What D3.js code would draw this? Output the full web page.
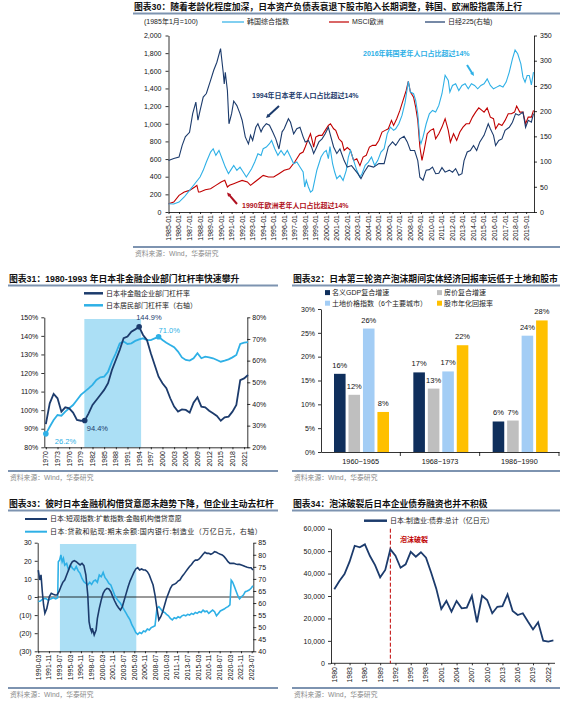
<!DOCTYPE html>
<meta charset="utf-8">
<head>
  <title>日本资产负债表衰退</title>
</head>

<style>
  body { margin: 0; background: #fff; }
  svg { font-family: "Liberation Sans", "Noto Sans CJK SC", Arial, sans-serif; }
  .ttl { font-size: 8.8px; font-weight: bold; fill: #111; }
  .src { font-size: 6.8px; fill: #8a8a8a; }
  .lg { font-size: 7px; fill: #222; }
  .axis text { font-size: 7px; fill: #111; }
  .axis path, .axis line { stroke: #000; stroke-width: 0.8; }
  .xl { font-size: 7px; fill: #111; }
</style>

<body>

  <div id="chart"></div>

  <script src="https://d3js.org/d3.v7.min.js"></script>

  <script>

  // ---------------- data ----------------

  // chart 30: [year, value], left axis (1985-01 = 100)
  var kospi30 = [[1985.0,94],[1985.5,90],[1986.0,113],[1986.5,170],[1987.0,245],[1987.5,320],[1988.0,396],[1988.3,472],[1988.6,566],[1989.0,679],[1989.25,717],[1989.5,642],[1989.8,698],[1990.1,604],[1990.4,509],[1990.7,434],[1990.9,472],[1991.2,528],[1991.5,472],[1991.8,509],[1992.1,453],[1992.4,396],[1992.6,434],[1992.9,490],[1993.2,566],[1993.5,660],[1993.8,642],[1994.0,717],[1994.3,736],[1994.6,774],[1994.8,810],[1995.1,717],[1995.4,642],[1995.7,698],[1996.0,642],[1996.3,698],[1996.6,623],[1996.9,547],[1997.2,566],[1997.5,509],[1997.8,453],[1997.95,283],[1998.1,358],[1998.3,283],[1998.5,226],[1998.7,245],[1998.9,358],[1999.1,472],[1999.3,547],[1999.5,623],[1999.8,679],[2000.0,698],[2000.2,604],[2000.35,740],[2000.6,547],[2000.8,453],[2001.0,377],[2001.3,415],[2001.6,358],[2001.9,472],[2002.1,623],[2002.3,698],[2002.6,585],[2002.9,472],[2003.2,396],[2003.4,434],[2003.7,528],[2004.0,566],[2004.3,623],[2004.6,528],[2004.9,585],[2005.2,679],[2005.5,717],[2005.8,887],[2006.1,962],[2006.4,925],[2006.6,943],[2006.9,1000],[2007.2,1094],[2007.5,1245],[2007.8,1480],[2008.0,1359],[2008.3,1340],[2008.5,1264],[2008.7,1113],[2008.9,811],[2009.0,774],[2009.2,849],[2009.5,1000],[2009.8,1113],[2010.1,1151],[2010.4,1132],[2010.7,1208],[2011.0,1340],[2011.3,1550],[2011.6,1491],[2011.75,1359],[2012.0,1434],[2012.3,1453],[2012.6,1377],[2012.9,1434],[2013.2,1453],[2013.5,1396],[2013.8,1453],[2014.1,1434],[2014.4,1396],[2014.7,1434],[2015.0,1453],[2015.3,1509],[2015.6,1434],[2015.9,1396],[2016.2,1415],[2016.5,1434],[2016.8,1415],[2017.1,1472],[2017.4,1585],[2017.7,1736],[2017.95,1835],[2018.2,1793],[2018.5,1679],[2018.7,1528],[2018.9,1472],[2019.1,1547],[2019.3,1547],[2019.5,1440],[2019.7,1585]];
  var msci30 = [[1985.0,94],[1985.5,113],[1986.0,189],[1986.5,226],[1987.0,245],[1987.5,283],[1987.7,302],[1987.85,226],[1988.0,226],[1988.5,253],[1989.0,264],[1989.5,302],[1990.0,340],[1990.35,360],[1990.6,283],[1990.8,302],[1991.2,321],[1991.6,340],[1992.0,358],[1992.5,340],[1992.8,302],[1993.2,340],[1993.6,377],[1994.0,415],[1994.5,396],[1995.0,396],[1995.5,434],[1996.0,472],[1996.5,490],[1997.0,566],[1997.5,660],[1997.8,679],[1998.0,736],[1998.3,830],[1998.5,887],[1998.7,792],[1998.8,736],[1999.0,849],[1999.3,868],[1999.6,868],[1999.9,925],[2000.2,981],[2000.4,1000],[2000.7,943],[2000.9,925],[2001.2,830],[2001.5,792],[2001.7,698],[2002.0,730],[2002.3,698],[2002.6,585],[2002.9,604],[2003.2,525],[2003.5,623],[2003.8,642],[2004.1,736],[2004.4,755],[2004.7,755],[2005.0,811],[2005.3,906],[2005.6,925],[2005.9,943],[2006.2,1038],[2006.4,981],[2006.7,1057],[2007.0,1151],[2007.3,1264],[2007.6,1377],[2007.8,1480],[2008.0,1359],[2008.3,1302],[2008.5,1189],[2008.7,1038],[2008.9,736],[2009.1,585],[2009.3,698],[2009.6,887],[2009.9,925],[2010.2,943],[2010.4,830],[2010.7,887],[2011.0,962],[2011.3,1057],[2011.6,925],[2011.8,792],[2012.1,887],[2012.4,811],[2012.7,906],[2013.0,962],[2013.3,1000],[2013.6,1000],[2013.9,1075],[2014.2,1132],[2014.5,1180],[2014.8,1151],[2015.0,1132],[2015.3,1180],[2015.6,1075],[2015.9,1057],[2016.1,943],[2016.4,1000],[2016.7,981],[2017.0,1038],[2017.3,1113],[2017.6,1113],[2017.9,1132],[2018.1,1200],[2018.4,1132],[2018.7,1132],[2018.95,1000],[2019.2,1075],[2019.5,1075],[2019.7,1151]];
  // nikkei on right axis
  var nikkei30 = [[1985.0,102],[1985.5,106],[1986.0,109],[1986.3,132],[1986.6,149],[1987.0,158],[1987.3,195],[1987.6,218],[1987.8,182],[1988.0,201],[1988.3,228],[1988.6,235],[1989.0,261],[1989.3,281],[1989.6,297],[1989.95,324],[1990.2,277],[1990.3,254],[1990.4,277],[1990.6,241],[1990.75,175],[1991.0,195],[1991.2,220],[1991.5,211],[1991.8,195],[1992.0,182],[1992.3,149],[1992.6,135],[1992.8,152],[1993.0,142],[1993.3,168],[1993.5,175],[1993.8,159],[1994.0,168],[1994.3,175],[1994.6,172],[1994.9,159],[1995.2,145],[1995.5,125],[1995.8,159],[1996.0,165],[1996.4,185],[1996.6,178],[1996.9,155],[1997.2,165],[1997.5,168],[1997.8,149],[1998.0,139],[1998.3,142],[1998.6,129],[1998.8,116],[1999.0,125],[1999.3,139],[1999.6,145],[1999.9,155],[2000.2,168],[2000.4,152],[2000.7,129],[2001.0,116],[2001.3,125],[2001.7,102],[2002.0,89],[2002.4,92],[2002.7,84],[2003.0,76],[2003.3,66],[2003.6,79],[2004.0,92],[2004.5,89],[2005.0,96],[2005.5,96],[2005.9,129],[2006.3,139],[2006.6,132],[2007.0,145],[2007.4,150],[2007.7,139],[2008.0,122],[2008.4,122],[2008.7,102],[2008.9,69],[2009.2,63],[2009.5,83],[2009.8,84],[2010.1,89],[2010.4,76],[2010.7,77],[2011.0,88],[2011.3,79],[2011.7,83],[2012.0,79],[2012.3,86],[2012.6,73],[2012.9,76],[2013.1,102],[2013.4,119],[2013.7,122],[2014.0,132],[2014.3,122],[2014.6,139],[2015.0,152],[2015.4,175],[2015.6,165],[2015.9,152],[2016.1,132],[2016.4,142],[2016.7,145],[2017.0,162],[2017.4,168],[2017.7,178],[2018.0,195],[2018.3,192],[2018.7,198],[2018.95,168],[2019.2,182],[2019.5,178],[2019.7,195]];
  var ticks30 = ["1985-01","1986-01","1987-01","1988-01","1989-01","1990-01","1991-01","1992-01","1993-01","1994-01","1995-01","1996-01","1997-01","1998-01","1999-01","2000-01","2001-01","2002-01","2003-01","2004-01","2005-01","2006-01","2007-01","2008-01","2009-01","2010-01","2011-01","2012-01","2013-01","2014-01","2015-01","2016-01","2017-01","2018-01","2019-01"];

  // chart 31: yearly leverage ratios (%)
  var years31 = [1970,1971,1972,1973,1974,1975,1976,1977,1978,1979,1980,1981,1982,1983,1984,1985,1986,1987,1988,1989,1990,1991,1992,1993,1994,1995,1996,1997,1998,1999,2000,2001,2002,2003,2004,2005,2006,2007,2008,2009,2010,2011,2012,2013,2014,2015,2016,2017,2018,2019,2020,2021,2022];
  var nfc31 = [92.5,103.7,108.7,106.4,99.2,101.5,101.0,98.7,94.7,94.3,94.4,98.3,102.8,105.5,108.2,110.9,114.5,121.6,127.0,132.4,138.7,139.6,142.3,143.5,144.9,140.5,137.8,130.6,124.3,118.0,114.5,111.8,106.4,101.9,99.2,100.4,100.1,98.7,104.0,106.9,101.9,101.5,99.7,98.3,96.9,94.3,96.1,96.5,99.2,102.8,116.2,117.1,118.9];
  var hh31 = [26.2,29.5,32.6,34.9,34.6,36.5,38.0,39.5,41.8,44.2,45.7,47.2,48.8,51.1,52.3,52.6,54.9,59.5,63.4,68.0,68.8,67.7,68.0,69.1,69.8,70.3,69.5,69.5,70.3,71.0,69.5,68.3,67.2,66.2,64.2,61.5,60.3,60.0,61.1,63.4,61.1,61.8,61.5,61.1,60.3,59.5,60.0,60.6,61.5,62.6,67.7,68.3,68.5];
  var ticks31 = [1970,1973,1976,1979,1982,1985,1988,1991,1994,1997,2000,2003,2006,2009,2012,2015,2018,2021];
  var shade31 = [1979.9, 1994.5];

  // chart 32: growth rates (%)
  var cats32 = ["1960~1965", "1968~1973", "1986~1990"];
  var series32 = ["名义GDP复合增速", "房价复合增速", "土地价格指数（6个主要城市）", "股市年化回报率"];
  var gdp32 = [16.4, 16.7, 6.4];
  var house32 = [12.0, 13.3, 6.6];
  var land32 = [25.9, 16.9, 24.4];
  var stock32 = [8.4, 22.4, 27.6];

  // chart 33: [year, value]
  var di33 = [[1990.17,14.9],[1990.4,9.4],[1990.6,12.2],[1990.8,2.9],[1991.0,-4.4],[1991.2,-9.0],[1991.5,-6.3],[1991.9,0.2],[1992.2,2.0],[1992.5,1.5],[1992.8,1.1],[1993.1,1.1],[1993.4,2.9],[1993.7,5.7],[1994.0,8.1],[1994.3,9.4],[1994.6,12.2],[1994.9,14.9],[1995.2,17.7],[1995.5,19.5],[1995.8,20.1],[1996.1,19.5],[1996.4,18.6],[1996.7,17.7],[1997.0,18.6],[1997.3,17.3],[1997.6,12.2],[1997.9,1.1],[1998.1,-13.6],[1998.3,-17.3],[1998.5,-19.2],[1998.6,-17.3],[1998.9,-21.0],[1999.2,-18.2],[1999.4,-11.8],[1999.7,-6.3],[2000.0,-1.7],[2000.3,2.0],[2000.6,3.9],[2000.9,4.8],[2001.2,4.4],[2001.5,2.9],[2001.8,0.2],[2002.1,-2.2],[2002.4,-4.4],[2002.7,-5.9],[2003.0,-7.2],[2003.3,-5.3],[2003.6,-1.7],[2003.9,2.0],[2004.2,5.7],[2004.5,8.8],[2004.8,11.2],[2005.1,13.6],[2005.4,15.5],[2005.7,16.2],[2006.0,14.9],[2006.3,15.5],[2006.6,14.9],[2006.9,14.9],[2007.2,14.0],[2007.5,12.2],[2007.8,9.4],[2008.1,6.6],[2008.4,1.1],[2008.7,-6.3],[2009.0,-12.7],[2009.3,-10.9],[2009.6,-8.1],[2009.9,-4.4],[2010.2,-0.7],[2010.5,2.0],[2010.8,4.8],[2011.1,6.6],[2011.4,7.0],[2011.7,7.6],[2012.0,8.8],[2012.3,9.4],[2012.6,11.2],[2012.9,12.5],[2013.2,14.0],[2013.5,15.5],[2013.8,16.8],[2014.1,18.0],[2014.4,19.5],[2014.7,20.4],[2015.0,20.4],[2015.3,21.0],[2015.6,22.3],[2015.9,23.6],[2016.2,24.7],[2016.5,24.1],[2016.8,24.1],[2017.1,23.6],[2017.4,24.1],[2017.7,25.0],[2018.0,24.7],[2018.3,24.1],[2018.6,23.6],[2018.9,23.2],[2019.2,22.3],[2019.5,21.0],[2019.8,19.5],[2020.1,18.6],[2020.4,18.6],[2020.7,18.6],[2021.0,18.2],[2021.3,18.0],[2021.6,18.0],[2021.9,17.7],[2022.2,17.3],[2022.5,16.8],[2022.8,16.4],[2023.1,16.2],[2023.4,16.2],[2023.7,14.9]];
  var loan33 = [[1990.17,60.6],[1990.5,60.8],[1990.9,61.7],[1991.3,61.9],[1991.7,61.2],[1992.1,61.7],[1992.5,62.2],[1992.9,61.7],[1993.2,62.2],[1993.3,77.1],[1993.5,77.8],[1993.7,79.9],[1993.9,77.1],[1994.1,78.5],[1994.3,75.7],[1994.6,76.4],[1994.9,73.7],[1995.2,75.7],[1995.5,74.4],[1995.8,73.7],[1996.1,75.1],[1996.4,73.3],[1996.7,72.3],[1997.0,70.2],[1997.3,68.8],[1997.6,68.1],[1997.9,67.5],[1998.2,68.6],[1998.5,67.7],[1998.8,69.1],[1999.1,69.5],[1999.4,68.6],[1999.7,71.6],[2000.0,70.9],[2000.3,72.7],[2000.6,70.5],[2000.9,69.5],[2001.2,68.1],[2001.5,67.5],[2001.8,65.4],[2002.1,63.3],[2002.4,61.9],[2002.7,60.8],[2003.0,59.9],[2003.3,58.5],[2003.6,57.1],[2003.9,55.7],[2004.2,54.3],[2004.5,53.0],[2004.8,50.9],[2005.1,49.5],[2005.4,47.8],[2005.7,47.0],[2006.0,47.8],[2006.3,47.4],[2006.6,48.4],[2006.9,48.1],[2007.2,49.2],[2007.5,48.8],[2007.8,49.8],[2008.1,50.2],[2008.4,50.6],[2008.7,57.8],[2009.0,58.5],[2009.3,57.5],[2009.6,56.4],[2009.9,56.1],[2010.2,55.3],[2010.5,54.7],[2010.8,53.6],[2011.1,53.0],[2011.4,53.9],[2011.7,53.6],[2012.0,54.3],[2012.3,53.9],[2012.6,54.7],[2012.9,55.0],[2013.2,54.7],[2013.5,55.3],[2013.8,55.0],[2014.1,55.7],[2014.4,55.3],[2014.7,56.1],[2015.0,55.7],[2015.3,56.4],[2015.6,56.1],[2015.9,57.1],[2016.2,56.4],[2016.5,56.7],[2016.8,55.7],[2017.1,56.4],[2017.4,57.1],[2017.7,56.4],[2018.0,54.7],[2018.3,55.7],[2018.6,56.7],[2018.9,57.1],[2019.2,57.5],[2019.5,58.1],[2019.8,58.5],[2020.1,59.2],[2020.3,69.5],[2020.5,68.8],[2020.8,66.8],[2021.1,64.7],[2021.4,62.6],[2021.6,61.7],[2021.9,62.6],[2022.2,63.3],[2022.5,64.7],[2022.8,65.0],[2023.1,65.4],[2023.4,66.1],[2023.7,67.2]];
  var ticks33 = ["1990-03","1991-11","1993-07","1995-03","1996-11","1998-07","2000-03","2001-11","2003-07","2005-03","2006-11","2008-07","2010-03","2011-11","2013-07","2015-03","2016-11","2018-07","2020-03","2021-11","2023-07"];
  var shade33 = [1993.55, 2005.48];

  // chart 34: manufacturing bonds (亿日元)
  var years34 = [1980,1981,1982,1983,1984,1985,1986,1987,1988,1989,1990,1991,1992,1993,1994,1995,1996,1997,1998,1999,2000,2001,2002,2003,2004,2005,2006,2007,2008,2009,2010,2011,2012,2013,2014,2015,2016,2017,2018,2019,2020,2021,2022,2023];
  var bond34 = [33000,36700,39800,45300,52400,51700,53000,47800,43800,38300,41600,50800,48000,42600,44100,49700,47500,49500,47100,40500,33400,24200,27800,23000,27800,24500,24800,30100,18300,30100,28200,22300,25200,25500,30700,23300,21500,22300,18600,15100,18300,10100,9700,10200];
  var ticks34 = [1980,1983,1986,1989,1992,1995,1998,2001,2004,2007,2010,2013,2016,2019,2022];
  var burst34 = 1991;

  // ---------------- helpers ----------------
  var navy = "#1c3b6c", sky = "#2eb0e6", red = "#c00000", rule = "#7d93b0", shade = "#abdff5";

  var svg = d3.select("#chart").append("svg")
      .attr("width", 576).attr("height", 719);

  function header(x1, x2, y, text) {
    svg.append("text").attr("class", "ttl").attr("x", x1 + 1).attr("y", y).text(text);
    svg.append("line").attr("x1", x1).attr("x2", x2).attr("y1", y + 3.5).attr("y2", y + 3.5)
      .attr("stroke", rule).attr("stroke-width", 2);
  }
  function footer(x1, x2, y) {
    svg.append("line").attr("x1", x1).attr("x2", x2).attr("y1", y).attr("y2", y)
      .attr("stroke", rule).attr("stroke-width", 2);
    svg.append("text").attr("class", "src").attr("x", x1 + 2).attr("y", y + 9).text("资料来源：Wind，华泰研究");
  }
  function legendLine(x, y, color, w, label, len) {
    svg.append("line").attr("x1", x).attr("x2", x + (len || 22)).attr("y1", y).attr("y2", y)
      .attr("stroke", color).attr("stroke-width", w);
    return svg.append("text").attr("class", "lg").attr("x", x + (len || 22) + 3).attr("y", y).attr("dy", "0.35em").text(label);
  }
  function ym(s) { return +s.slice(0, 4) + (+s.slice(5, 7) - 1) / 12; }
  function rotLabels(x, ticks, pos, y0) {
    svg.append("g").selectAll("text").data(ticks).join("text")
      .attr("class", "xl")
      .attr("transform", function(d) { return "translate(" + x(pos(d)) + "," + y0 + ") rotate(-90)"; })
      .attr("text-anchor", "end").attr("dy", "0.35em")
      .text(function(d) { return d; });
  }
  function arrow(x1, y1, x2, y2, color) {
    var a = Math.atan2(y2 - y1, x2 - x1), h = 4.5;
    svg.append("line").attr("x1", x1).attr("y1", y1)
      .attr("x2", x2 - Math.cos(a) * h * 0.8).attr("y2", y2 - Math.sin(a) * h * 0.8)
      .attr("stroke", color).attr("stroke-width", 2);
    svg.append("path").attr("fill", color)
      .attr("d", "M" + x2 + "," + y2 +
        "L" + (x2 - h * Math.cos(a - 0.45)) + "," + (y2 - h * Math.sin(a - 0.45)) +
        "L" + (x2 - h * Math.cos(a + 0.45)) + "," + (y2 - h * Math.sin(a + 0.45)) + "Z");
  }

  // ---------------- chart 30 ----------------
  header(133, 560, 10, "图表30：随着老龄化程度加深，日本资产负债表衰退下股市陷入长期调整，韩国、欧洲股指震荡上行");
  svg.append("text").attr("class", "lg").attr("x", 144).attr("y", 22).attr("dy", "0.35em").text("(1985年1月=100)");
  legendLine(222, 22, sky, 1.2, "韩国综合指数");
  legendLine(329, 22, red, 1.2, "MSCI欧洲", 20);
  legendLine(425, 22, navy, 1.2, "日经225(右轴)", 20);

  var x30 = d3.scaleLinear().domain([1985, 2019.75]).range([168.5, 534]);
  var yL30 = d3.scaleLinear().domain([0, 2000]).range([212, 35.5]);
  var yR30 = d3.scaleLinear().domain([0, 350]).range([212, 35.5]);

  svg.append("g").attr("class", "axis").attr("transform", "translate(168.5,0)")
    .call(d3.axisLeft(yL30).tickValues(d3.range(0, 2001, 200)).tickFormat(d3.format(",")).tickSize(3).tickPadding(4).tickSizeOuter(0));
  svg.append("g").attr("class", "axis").attr("transform", "translate(534,0)")
    .call(d3.axisRight(yR30).tickValues(d3.range(0, 351, 50)).tickSize(3).tickPadding(3).tickSizeOuter(0));
  svg.append("g").attr("class", "axis").attr("transform", "translate(0,212)")
    .call(d3.axisBottom(x30).tickValues(ticks30.map(ym)).tickFormat("").tickSize(2).tickSizeOuter(0));
  rotLabels(x30, ticks30, ym, 215);

  var line30L = d3.line().x(function(d) { return x30(d[0]); }).y(function(d) { return yL30(d[1]); });
  var line30R = d3.line().x(function(d) { return x30(d[0]); }).y(function(d) { return yR30(d[1]); });
  svg.append("path").datum(msci30).attr("d", line30L).attr("fill", "none").attr("stroke", red).attr("stroke-width", 1.1);
  svg.append("path").datum(kospi30).attr("d", line30L).attr("fill", "none").attr("stroke", sky).attr("stroke-width", 1.1);
  svg.append("path").datum(nikkei30).attr("d", line30R).attr("fill", "none").attr("stroke", navy).attr("stroke-width", 1.1);

  svg.append("text").attr("x", 252).attr("y", 96).attr("dy", "0.35em")
    .style("font-size", "7px").style("font-weight", "bold").attr("fill", navy).text("1994年日本老年人口占比超过14%");
  arrow(279, 106, 266, 118, navy);
  svg.append("text").attr("x", 242).attr("y", 206).attr("dy", "0.35em")
    .style("font-size", "7px").style("font-weight", "bold").attr("fill", "#b01020").text("1990年欧洲老年人口占比超过14%");
  arrow(237, 204, 227, 192.5, "#b01020");
  svg.append("text").attr("x", 363).attr("y", 54).attr("dy", "0.35em")
    .style("font-size", "7px").style("font-weight", "bold").attr("fill", sky).text("2016年韩国老年人口占比超过14%");
  arrow(467, 65, 474, 76, sky);

  footer(133, 560, 247);

  // ---------------- chart 31 ----------------
  header(8, 278, 282, "图表31：1980-1993 年日本非金融企业部门杠杆率快速攀升");
  legendLine(84, 293.3, navy, 2.5, "日本非金融企业部门杠杆率", 19);
  legendLine(84, 305.3, sky, 2.5, "日本居民部门杠杆率（右轴）", 19);

  var x31 = d3.scaleLinear().domain([1969.6, 2022]).range([44.3, 248]);
  var yL31 = d3.scaleLinear().domain([80, 150]).range([447.3, 317.3]);
  var yR31 = d3.scaleLinear().domain([20, 80]).range([447.3, 317.3]);

  svg.append("rect").attr("x", x31(shade31[0])).attr("width", x31(shade31[1]) - x31(shade31[0]))
    .attr("y", 319).attr("height", 447.3 - 319).attr("fill", shade);

  var pct = function(d) { return d + "%"; };
  svg.append("g").attr("class", "axis").attr("transform", "translate(44.3,0)")
    .call(d3.axisLeft(yL31).tickValues(d3.range(80, 151, 10)).tickFormat(pct).tickSize(3).tickPadding(3).tickSizeOuter(0));
  svg.append("g").attr("class", "axis").attr("transform", "translate(247.3,0)")
    .call(d3.axisRight(yR31).tickValues(d3.range(20, 81, 10)).tickFormat(pct).tickSize(3).tickPadding(2).tickSizeOuter(0));
  svg.append("g").attr("class", "axis").attr("transform", "translate(0,447.3)")
    .call(d3.axisBottom(x31).tickValues(ticks31).tickFormat("").tickSize(2).tickSizeOuter(0));
  rotLabels(x31, ticks31, function(d) { return d; }, 451);

  var line31 = function(yS) {
    return d3.line().x(function(d, i) { return x31(years31[i]); }).y(function(d) { return yS(d); });
  };
  svg.append("path").datum(hh31).attr("d", line31(yR31)).attr("fill", "none").attr("stroke", sky).attr("stroke-width", 1.8);
  svg.append("path").datum(nfc31).attr("d", line31(yL31)).attr("fill", "none").attr("stroke", navy).attr("stroke-width", 1.8);

  var marks31 = [
    { yr: 1970, s: hh31, y: yR31, c: sky, dx: 9, dy: 8 },
    { yr: 1980, s: nfc31, y: yL31, c: navy, dx: 2, dy: 8 },
    { yr: 1994, s: nfc31, y: yL31, c: navy, dx: -3, dy: -9 },
    { yr: 1999, s: hh31, y: yR31, c: sky, dx: 0, dy: -6 }
  ];
  marks31.forEach(function(m) {
    var i = years31.indexOf(m.yr), cx = x31(m.yr), cy = m.y(m.s[i]);
    svg.append("circle").attr("cx", cx).attr("cy", cy).attr("r", 2.8).attr("fill", m.c);
    svg.append("text").attr("x", cx + m.dx).attr("y", cy + m.dy).attr("dy", "0.35em")
      .style("font-size", "7.5px").attr("fill", m.c).text(m.s[i].toFixed(1) + "%");
  });

  footer(8, 278, 471);

  // ---------------- chart 32 ----------------
  header(292, 560, 282, "图表32：日本第三轮资产泡沫期间实体经济回报率远低于土地和股市");
  var colors32 = ["#0f2f5c", "#bfbfbf", "#a3cdf5", "#ffc000"];
  var vals32 = [gdp32, house32, land32, stock32];
  series32.forEach(function(s, k) {
    var lx = k % 2 === 0 ? 325 : 437, ly = k < 2 ? 292.7 : 303.3;
    svg.append("rect").attr("x", lx).attr("y", ly - 2.6).attr("width", 5).attr("height", 5).attr("fill", colors32[k]);
    svg.append("text").attr("class", "lg").attr("x", lx + 7).attr("y", ly).attr("dy", "0.35em").text(s);
  });

  var x32 = d3.scaleBand().domain(cats32).range([321, 559]);
  var xs32 = d3.scaleBand().domain(series32).range([13, 68]).paddingInner(0.2);
  var y32 = d3.scaleLinear().domain([0, 30]).range([452, 309]);

  svg.append("g").attr("class", "axis").attr("transform", "translate(321,0)")
    .call(d3.axisLeft(y32).tickValues(d3.range(0, 31, 5)).tickFormat(pct).tickSize(3).tickPadding(3).tickSizeOuter(0));
  svg.append("g").attr("class", "axis").attr("transform", "translate(0,452)")
    .call(d3.axisBottom(x32).tickSize(0).tickPadding(7))
    .call(function(g) { g.selectAll("text").style("font-size", "7.3px"); });
  svg.append("g").selectAll("line").data(cats32).join("line")
    .attr("x1", function(d) { return x32(d) + x32.bandwidth(); })
    .attr("x2", function(d) { return x32(d) + x32.bandwidth(); })
    .attr("y1", 452).attr("y2", 456).attr("stroke", "#000").attr("stroke-width", 0.8);

  var bars32 = [];
  cats32.forEach(function(c, i) {
    series32.forEach(function(s, k) { bars32.push({ c: c, s: s, v: vals32[k][i], col: colors32[k] }); });
  });
  svg.append("g").selectAll("rect").data(bars32).join("rect")
    .attr("x", function(d) { return x32(d.c) + xs32(d.s); })
    .attr("width", xs32.bandwidth())
    .attr("y", function(d) { return y32(d.v); })
    .attr("height", function(d) { return 452 - y32(d.v); })
    .attr("fill", function(d) { return d.col; });
  svg.append("g").selectAll("text").data(bars32).join("text")
    .attr("x", function(d) { return x32(d.c) + xs32(d.s) + xs32.bandwidth() / 2; })
    .attr("y", function(d) { return y32(d.v) - 6; })
    .attr("text-anchor", "middle").style("font-size", "7.5px").attr("fill", "#111")
    .text(function(d) { return d3.format(".0f")(d.v) + "%"; });

  footer(292, 560, 471);

  // ---------------- chart 33 ----------------
  header(8, 278, 507, "图表33：彼时日本金融机构借贷意愿未趋势下降，但企业主动去杠杆");
  legendLine(25, 519, navy, 2, "日本:短观指数:扩散指数:金融机构借贷意愿");
  legendLine(25, 531.7, sky, 2, "日本:贷款和贴现:期末余额:国内银行:制造业（万亿日元，右轴）")
    .style("letter-spacing", "0.5px");

  var x33 = d3.scaleLinear().domain([1990.08, 2023.75]).range([37.7, 253.3]);
  var yL33 = d3.scaleLinear().domain([-30, 30]).range([651.3, 542.7]);
  var yR33 = d3.scaleLinear().domain([40, 85]).range([651.3, 542.7]);

  svg.append("rect").attr("x", x33(shade33[0])).attr("width", x33(shade33[1]) - x33(shade33[0]))
    .attr("y", 544).attr("height", 651.3 - 544).attr("fill", shade);

  var paren = function(d) { return d < 0 ? "(" + (-d) + ")" : d; };
  svg.append("g").attr("class", "axis").attr("transform", "translate(37.7,0)")
    .call(d3.axisLeft(yL33).tickValues(d3.range(-30, 31, 10)).tickFormat(paren).tickSize(3).tickPadding(3).tickSizeOuter(0));
  svg.append("g").attr("class", "axis").attr("transform", "translate(253.3,0)")
    .call(d3.axisRight(yR33).tickValues(d3.range(40, 86, 5)).tickSize(3).tickPadding(2).tickSizeOuter(0));
  svg.append("g").attr("class", "axis").attr("transform", "translate(0,651.3)")
    .call(d3.axisBottom(x33).tickValues(ticks33.map(ym)).tickFormat("").tickSize(2).tickSizeOuter(0));
  svg.append("line").attr("x1", 37.7).attr("x2", 253.3).attr("y1", yL33(0)).attr("y2", yL33(0))
    .attr("stroke", "#000").attr("stroke-width", 0.8);
  rotLabels(x33, ticks33, ym, 654.5);

  svg.append("path").datum(loan33)
    .attr("d", d3.line().x(function(d) { return x33(d[0]); }).y(function(d) { return yR33(d[1]); }))
    .attr("fill", "none").attr("stroke", sky).attr("stroke-width", 1.6);
  svg.append("path").datum(di33)
    .attr("d", d3.line().x(function(d) { return x33(d[0]); }).y(function(d) { return yL33(d[1]); }))
    .attr("fill", "none").attr("stroke", navy).attr("stroke-width", 1.6);

  footer(8, 278, 688);

  // ---------------- chart 34 ----------------
  header(292, 560, 507, "图表34：泡沫破裂后日本企业债券融资也并不积极");
  legendLine(364, 520.7, navy, 2.5, "日本:制造业:债券:总计（亿日元）", 23);

  var x34 = d3.scaleLinear().domain([1980, 2022]).range([334.3, 548.3]);
  var y34 = d3.scaleLinear().domain([0, 60000]).range([663.3, 528.7]);

  svg.append("g").attr("class", "axis").attr("transform", "translate(331,0)")
    .call(d3.axisLeft(y34).tickValues(d3.range(0, 60001, 10000)).tickFormat(d3.format(",")).tickSize(3).tickPadding(3).tickSizeOuter(0));
  svg.append("line").attr("x1", 331).attr("x2", 555).attr("y1", 663.3).attr("y2", 663.3)
    .attr("stroke", "#000").attr("stroke-width", 0.8);
  svg.append("g").attr("class", "axis").attr("transform", "translate(0,663.3)")
    .call(d3.axisBottom(x34).tickValues(ticks34).tickFormat("").tickSize(2).tickSizeOuter(0))
    .call(function(g) { g.select(".domain").remove(); });
  rotLabels(x34, ticks34, function(d) { return d; }, 667);

  svg.append("line").attr("x1", x34(burst34)).attr("x2", x34(burst34))
    .attr("y1", y34(60000)).attr("y2", y34(0))
    .attr("stroke", red).attr("stroke-width", 1).attr("stroke-dasharray", "4,2");
  svg.append("text").attr("x", 400).attr("y", 539.5).attr("dy", "0.35em")
    .style("font-size", "7px").style("font-weight", "bold").attr("fill", red).text("泡沫破裂");

  svg.append("path").datum(bond34)
    .attr("d", d3.line().x(function(d, i) { return x34(years34[i]); }).y(function(d) { return y34(d); }))
    .attr("fill", "none").attr("stroke", navy).attr("stroke-width", 1.8);

  footer(292, 560, 688);

  </script>
</body>
</html>
